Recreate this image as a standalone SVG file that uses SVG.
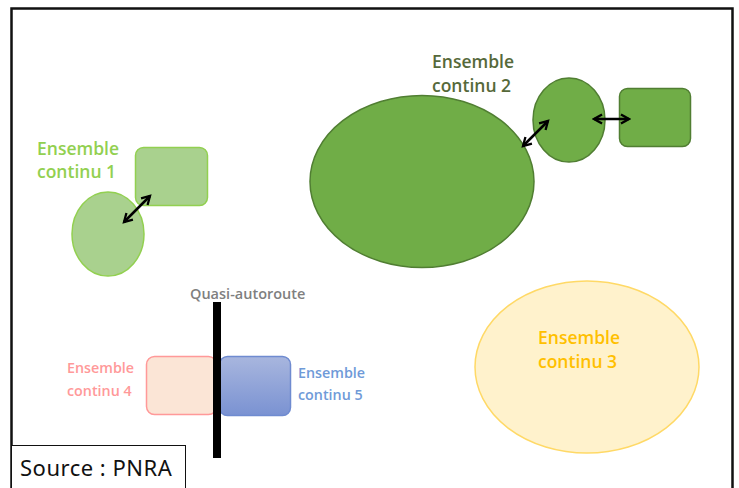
<svg xmlns="http://www.w3.org/2000/svg" width="739" height="488" viewBox="0 0 739 488">
<style>
.lbl{font-family:"Open Sans","Liberation Sans",sans-serif;font-weight:600;font-size:17.5px}
.frame{fill:none;stroke:#111;stroke-width:2.5}
.arr{stroke:#000;stroke-width:2.5;fill:none;marker-start:url(#ah);marker-end:url(#ah)}
</style>
<defs>
<marker id="ah" viewBox="0 0 10 10" refX="8" refY="5" markerWidth="4.6" markerHeight="4.6" orient="auto-start-reverse" markerUnits="strokeWidth">
<path d="M1,1 L8,5 L1,9" fill="none" stroke="#000" stroke-width="2"/>
</marker>
<linearGradient id="blue" x1="0" y1="0" x2="0" y2="1">
<stop offset="0" stop-color="#a8b6de"/>
<stop offset="1" stop-color="#7a92d2"/>
</linearGradient>
</defs>
<rect width="739" height="488" fill="#fff"/>
<path class="frame" d="M11.5,490 V8.5 H732.5 V490"/>

<g id="node-ens1">
<rect x="135.5" y="147.5" width="72" height="58" rx="8" fill="#a9d18e" stroke="#92d050" stroke-width="1.5"/>
<ellipse cx="108" cy="234" rx="36" ry="42" fill="#a9d18e" stroke="#92d050" stroke-width="1.5"/>
<text class="lbl" fill="#92d050"><tspan x="37" y="155">Ensemble</tspan><tspan x="37" y="178">continu 1</tspan></text>
</g>

<g id="node-ens2">
<ellipse cx="422" cy="181.5" rx="112" ry="86" fill="#70ad47" stroke="#507e32" stroke-width="1.5"/>
<ellipse cx="569" cy="120" rx="36" ry="42" fill="#70ad47" stroke="#507e32" stroke-width="1.5"/>
<rect x="619.5" y="88.5" width="71" height="58" rx="8" fill="#70ad47" stroke="#507e32" stroke-width="1.5"/>
<text class="lbl" fill="#56693a"><tspan x="432" y="68">Ensemble</tspan><tspan x="432" y="92">continu 2</tspan></text>
</g>

<g id="node-ens3">
<ellipse cx="587" cy="367" rx="112" ry="86" fill="#fff2cc" stroke="#ffd966" stroke-width="1.5"/>
<text class="lbl" fill="#ffc000"><tspan x="538" y="344">Ensemble</tspan><tspan x="538" y="368">continu 3</tspan></text>
</g>

<g id="node-ens4">
<rect x="146.5" y="356.5" width="70" height="58" rx="8" fill="#fbe5d6" stroke="#ff9999" stroke-width="1.5"/>
<text class="lbl" fill="#ff9999" style="font-size:14.3px"><tspan x="67" y="373">Ensemble</tspan><tspan x="67" y="396">continu 4</tspan></text>
</g>

<g id="node-ens5">
<rect x="219.5" y="356.5" width="71" height="59" rx="8" fill="url(#blue)" stroke="#6f8bd0" stroke-width="1.5"/>
<text class="lbl" fill="#6f9ad8" style="font-size:14.3px"><tspan x="298" y="378">Ensemble</tspan><tspan x="298" y="400">continu 5</tspan></text>
</g>

<g id="node-highway">
<rect x="213" y="302" width="8" height="156" fill="#000"/>
<text class="lbl" fill="#7f7f7f" style="font-size:14.5px" x="190" y="299">Quasi-autoroute</text>
</g>

<g id="connectors">
<line class="arr" x1="124" y1="222" x2="150" y2="196"/>
<line class="arr" x1="523" y1="146" x2="548" y2="121"/>
<line class="arr" x1="594" y1="119" x2="629" y2="119"/>
</g>

<g id="source">
<rect x="11.5" y="445.5" width="174" height="50" fill="#fff" stroke="#111" stroke-width="1"/>
<text x="20" y="476" font-family="'Noto Sans','Open Sans',sans-serif" font-size="22" letter-spacing="0.5" fill="#111">Source : PNRA</text>
</g>
</svg>
